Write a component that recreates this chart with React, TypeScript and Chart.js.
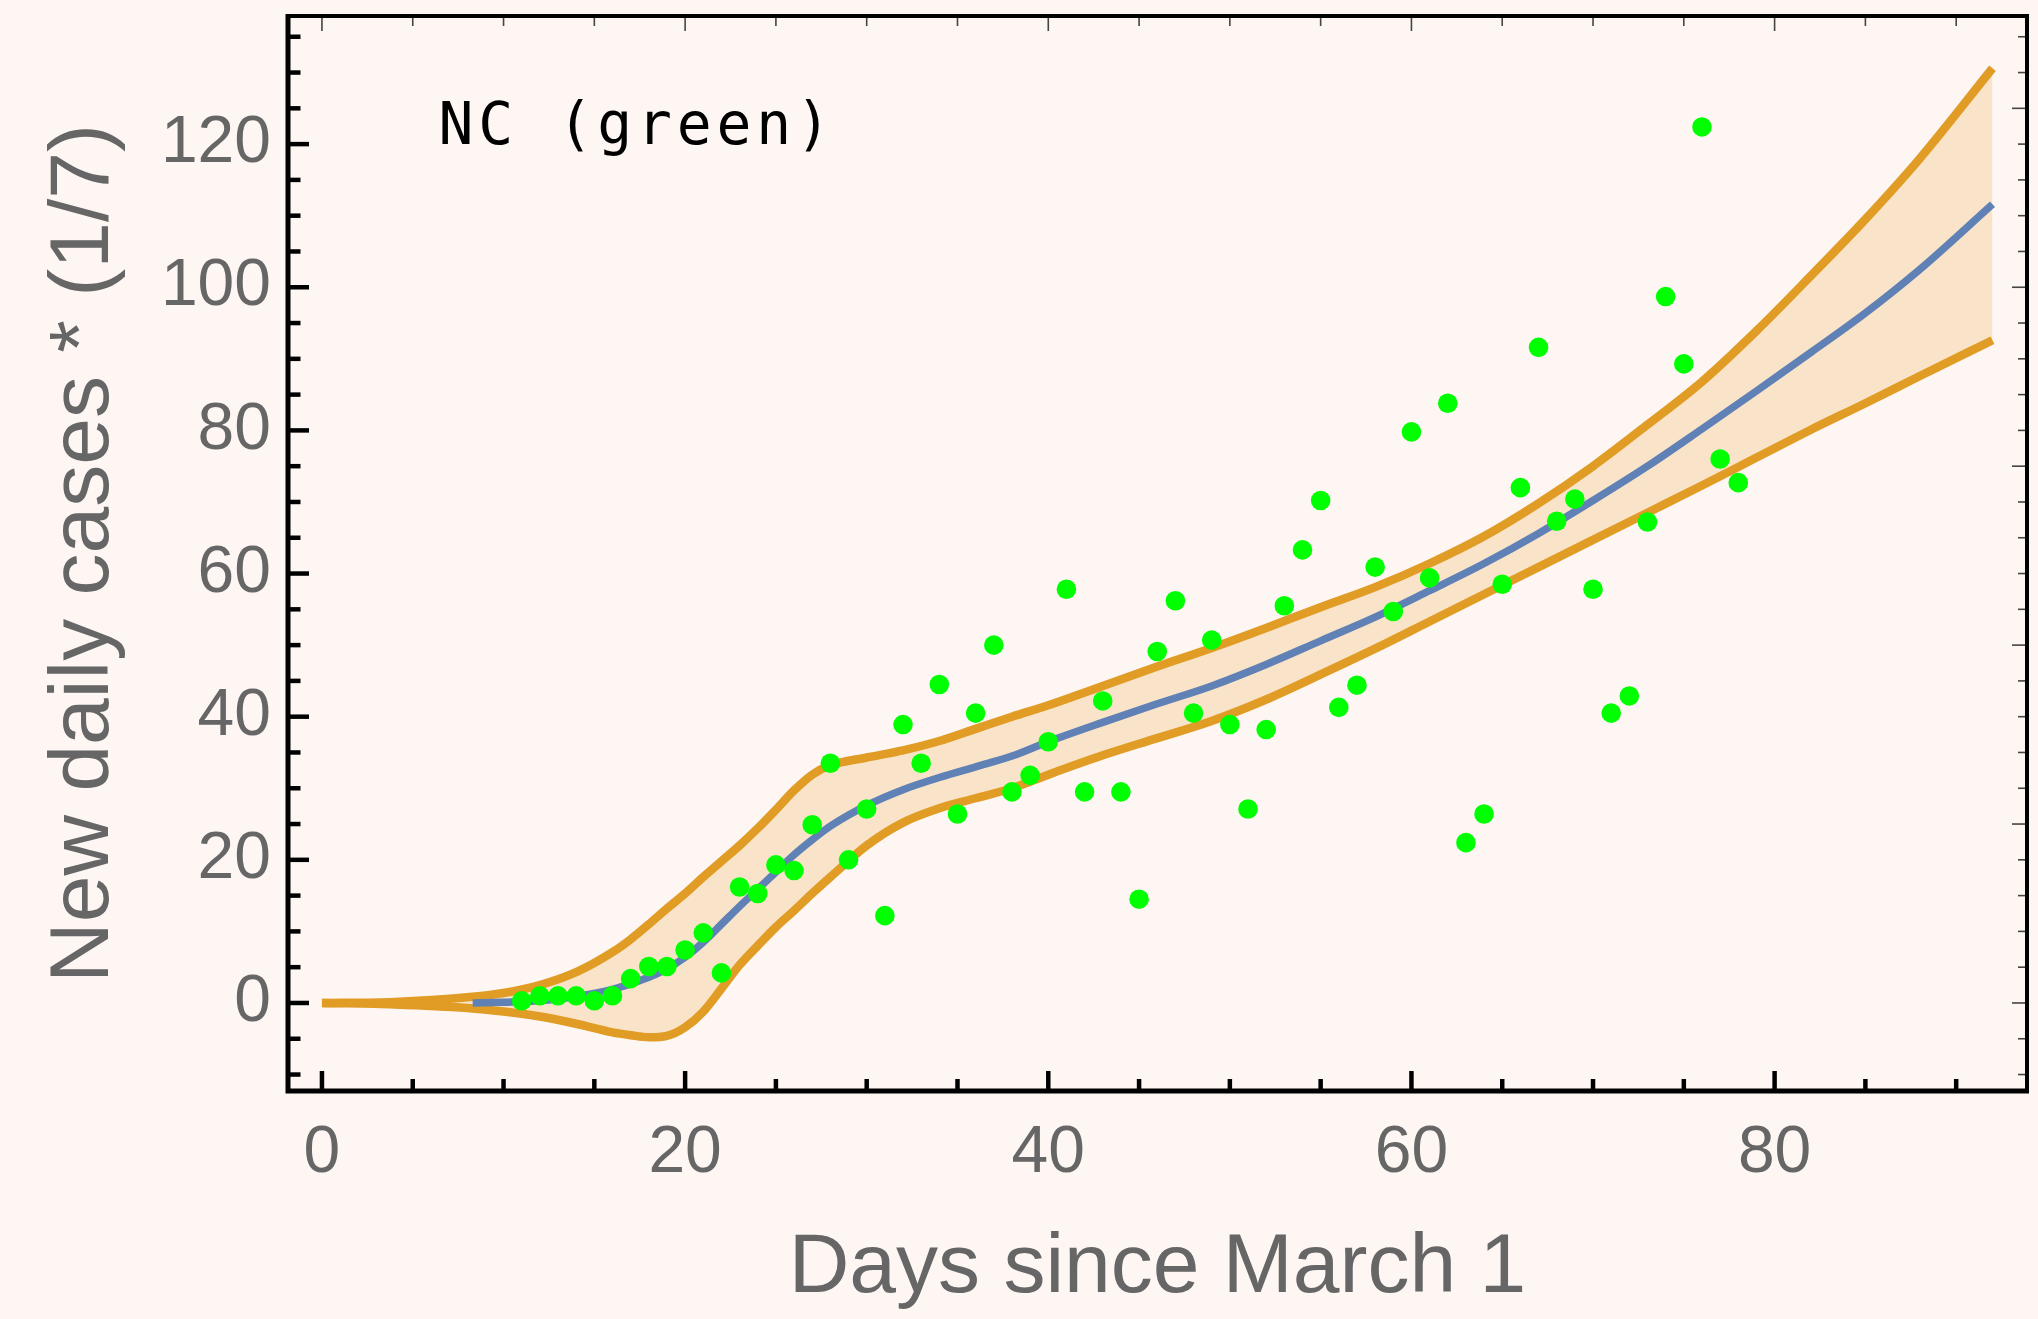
import React, { useEffect, useRef } from 'react';
import { Chart, registerables } from 'chart.js';

Chart.register(...registerables);

// ---- data ----
const pointDays = [
  11, 12, 13, 14, 15, 16, 17, 18, 19, 20, 21, 22, 23, 24, 25, 26, 27, 28, 29, 30,
  31, 32, 33, 34, 35, 36, 37, 38, 39, 40, 41, 42, 43, 44, 45, 46, 47, 48, 49, 50,
  51, 52, 53, 54, 55, 56, 57, 58, 59, 60, 61, 62, 63, 64, 65, 66, 67, 68, 69, 70,
  71, 72, 73, 74, 75, 76, 77, 78,
];
const pointValues = [
  0.3, 1.0, 1.0, 1.0, 0.3, 1.0, 3.4, 5.1, 5.1, 7.4, 9.8, 4.2, 16.2, 15.3, 19.3, 18.5, 24.9, 33.5, 20.0, 27.1,
  12.2, 38.9, 33.5, 44.5, 26.4, 40.5, 50.0, 29.5, 31.8, 36.5, 57.8, 29.5, 42.2, 29.5, 14.5, 49.1, 56.2, 40.5, 50.7, 38.9,
  27.1, 38.2, 55.5, 63.3, 70.2, 41.3, 44.4, 60.9, 54.7, 79.8, 59.4, 83.8, 22.4, 26.4, 58.5, 72.0, 91.6, 67.3, 70.4, 57.8,
  40.5, 42.9, 67.2, 98.7, 89.3, 122.4, 76.0, 72.7,
];

const bandDays = [
  0, 4, 8, 10, 12, 14, 16, 17, 18, 19, 20, 21, 22, 23, 24, 25, 26, 27, 28, 30,
  32, 34, 36, 38, 40, 43, 46, 49, 52, 55, 58, 61, 64, 67, 70, 73, 76, 79, 82, 85,
  88, 92,
];
const upperValues = [
  0, 0.15, 0.8, 1.4, 2.5, 4.3, 7.1, 8.9, 11.0, 13.2, 15.3, 17.6, 19.8, 22.0, 24.4, 27.0, 29.7, 31.9, 33.2, 34.3,
  35.3, 36.6, 38.3, 40.0, 41.6, 44.3, 47.0, 49.6, 52.4, 55.3, 58.1, 61.4, 65.2, 69.8, 75.0, 80.8, 86.8, 93.9, 101.6, 109.5,
  118.0, 130.6,
];
const lowerValues = [
  0, -0.2, -0.7, -1.2, -1.9, -2.9, -4.1, -4.5, -4.8, -4.6, -3.4, -1.2, 2.0, 5.3, 8.0, 10.6, 12.9, 15.3, 17.6, 22.0,
  25.2, 27.2, 28.6, 30.0, 31.9, 34.6, 37.0, 39.4, 42.4, 45.9, 49.5, 53.3, 57.1, 60.9, 64.7, 68.5, 72.3, 76.2, 80.1, 83.8,
  87.6, 92.6,
];

const meanDays = [
  8.3, 10, 12, 14, 16, 18, 19, 20, 21, 22, 23, 24, 25, 26, 27, 28, 30, 32, 34, 36,
  38, 40, 43, 46, 49, 52, 55, 58, 61, 64, 67, 70, 73, 76, 79, 82, 85, 88, 92,
];
const meanValues = [
  0, 0.1, 0.3, 0.9, 1.9, 3.6, 4.8, 6.4, 8.5, 11.0, 13.5, 15.9, 18.3, 20.7, 22.8, 24.7, 27.6, 29.8, 31.5, 33.0,
  34.5, 36.5, 39.2, 41.8, 44.3, 47.3, 50.6, 53.9, 57.6, 61.4, 65.6, 70.2, 75.0, 80.2, 85.5, 90.9, 96.4, 102.5, 111.6,
];

const xTickValues = [0, 20, 40, 60, 80];
const yTickValues = [0, 20, 40, 60, 80, 100, 120];
const xTitle = 'Days since March 1';
const yTitle = 'New daily cases * (1/7)';
const labelText = 'NC (green)';

// ---- styles ----
const BG = '#fef6f3';
const ORANGE = '#e09c24';
const BAND = '#f9e4c9';
const BLUE = '#6081b5';
const GREEN = '#00ff00';
const GRAY = '#666666';
const SANS = '"Liberation Sans", Arial, sans-serif';

const toXY = (xs: number[], ys: number[]) => xs.map((x, i) => ({ x, y: ys[i] }));

const framePlugin = {
  id: 'frame',
  beforeDraw(chart: any) {
    const { ctx, width, height } = chart;
    ctx.save();
    ctx.fillStyle = BG;
    ctx.fillRect(0, 0, width, height);
    ctx.restore();
  },
  afterDatasetsDraw(chart: any) {
    const { ctx, chartArea, scales } = chart;
    const { left, right, top, bottom } = chartArea;
    const xs = scales.x;
    const ys = scales.y;
    ctx.save();
    ctx.lineCap = 'butt';

    // bottom ticks (inward, thick)
    ctx.strokeStyle = '#000';
    ctx.lineWidth = 4.5;
    for (let v = 0; v <= 90; v += 5) {
      const px = xs.getPixelForValue(v);
      const len = v % 20 === 0 ? 20 : 12;
      ctx.beginPath();
      ctx.moveTo(px, bottom);
      ctx.lineTo(px, bottom - len);
      ctx.stroke();
    }
    // left ticks
    for (let v = -10; v <= 135; v += 5) {
      const py = ys.getPixelForValue(v);
      const len = v % 20 === 0 ? 21 : 12.5;
      ctx.beginPath();
      ctx.moveTo(left, py);
      ctx.lineTo(left + len, py);
      ctx.stroke();
    }
    // top ticks (thin)
    ctx.strokeStyle = '#444';
    ctx.lineWidth = 1.6;
    for (let v = 0; v <= 90; v += 5) {
      const px = xs.getPixelForValue(v);
      const len = v % 20 === 0 ? 15 : 10;
      ctx.beginPath();
      ctx.moveTo(px, top);
      ctx.lineTo(px, top + len);
      ctx.stroke();
    }
    // right ticks (thin)
    for (let v = -10; v <= 135; v += 5) {
      const py = ys.getPixelForValue(v);
      const len = v % 25 === 0 ? 15 : 9;
      ctx.beginPath();
      ctx.moveTo(right, py);
      ctx.lineTo(right - len, py);
      ctx.stroke();
    }

    // frame
    ctx.strokeStyle = '#000';
    ctx.lineWidth = 4;
    ctx.beginPath();
    ctx.moveTo(left, top);
    ctx.lineTo(right, top);
    ctx.lineTo(right, bottom);
    ctx.stroke();
    ctx.lineWidth = 5;
    ctx.beginPath();
    ctx.moveTo(left, top - 2);
    ctx.lineTo(left, bottom);
    ctx.lineTo(right + 2, bottom);
    ctx.stroke();

    // label text (monospace, fixed pitch)
    ctx.fillStyle = '#000';
    ctx.font = '58px "DejaVu Sans Mono", monospace';
    ctx.textAlign = 'center';
    ctx.textBaseline = 'alphabetic';
    const chars = Array.from(labelText);
    chars.forEach((ch, i) => {
      if (ch !== ' ') ctx.fillText(ch, 456 + i * 39.7, 144);
    });
    ctx.restore();
  },
};

export default function App() {
  const canvasRef = useRef<HTMLCanvasElement | null>(null);

  useEffect(() => {
    document.body.style.margin = '0';
    document.body.style.background = BG;
    const canvas = canvasRef.current;
    if (!canvas) return;

    const chart = new Chart(canvas, {
      type: 'line',
      data: {
        datasets: [
          {
            type: 'scatter',
            label: 'points',
            data: toXY(pointDays, pointValues),
            showLine: false,
            pointRadius: 9.8,
            pointBorderWidth: 0,
            pointBackgroundColor: GREEN,
            pointBorderColor: GREEN,
            backgroundColor: GREEN,
          } as any,
          {
            label: 'mean',
            data: toXY(meanDays, meanValues),
            borderColor: BLUE,
            borderWidth: 7.5,
            pointRadius: 0,
            fill: false,
            cubicInterpolationMode: 'monotone',
            borderCapStyle: 'butt',
          },
          {
            label: 'upper',
            data: toXY(bandDays, upperValues),
            borderColor: ORANGE,
            borderWidth: 8.5,
            pointRadius: 0,
            fill: '+1',
            backgroundColor: BAND,
            cubicInterpolationMode: 'monotone',
            borderCapStyle: 'butt',
          },
          {
            label: 'lower',
            data: toXY(bandDays, lowerValues),
            borderColor: ORANGE,
            borderWidth: 8.5,
            pointRadius: 0,
            fill: false,
            cubicInterpolationMode: 'monotone',
            borderCapStyle: 'butt',
          },
        ],
      },
      options: {
        responsive: false,
        animation: false,
        devicePixelRatio: 1,
        events: [],
        layout: { padding: { top: 16, right: 11, left: 0, bottom: 0 } },
        plugins: {
          legend: { display: false },
          tooltip: { enabled: false },
          filler: { drawTime: 'beforeDatasetsDraw' },
        } as any,
        scales: {
          x: {
            type: 'linear',
            min: -1.87,
            max: 93.9,
            grid: { display: false },
            border: { display: false },
            afterBuildTicks: (s: any) => {
              s.ticks = xTickValues.map((v) => ({ value: v }));
            },
            afterFit: (s: any) => {
              s.height = 228;
              s.paddingLeft = 0;
              s.paddingRight = 0;
            },
            ticks: {
              autoSkip: false,
              maxRotation: 0,
              padding: 15,
              color: GRAY,
              font: { family: SANS, size: 66 },
              callback: (v: any) => String(v),
            },
            title: {
              display: true,
              text: xTitle,
              color: GRAY,
              font: { family: SANS, size: 84 },
              padding: { top: 0, bottom: 0 },
            },
          },
          y: {
            type: 'linear',
            min: -12.3,
            max: 137.9,
            grid: { display: false },
            border: { display: false },
            afterBuildTicks: (s: any) => {
              s.ticks = yTickValues.map((v) => ({ value: v }));
            },
            afterFit: (s: any) => {
              s.width = 288;
              s.paddingTop = 0;
              s.paddingBottom = 0;
            },
            ticks: {
              autoSkip: false,
              padding: 9,
              color: GRAY,
              font: { family: SANS, size: 66 },
              callback: (v: any) => String(v),
            },
            title: {
              display: true,
              text: yTitle,
              color: GRAY,
              font: { family: SANS, size: 84 },
              padding: { top: 34, bottom: 0 },
            },
          },
        },
      },
      plugins: [framePlugin],
    });

    return () => {
      chart.destroy();
    };
  }, []);

  return (
    <div style={{ width: 2038, height: 1319, background: BG }}>
      <canvas ref={canvasRef} width={2038} height={1319} style={{ display: 'block' }} />
    </div>
  );
}
